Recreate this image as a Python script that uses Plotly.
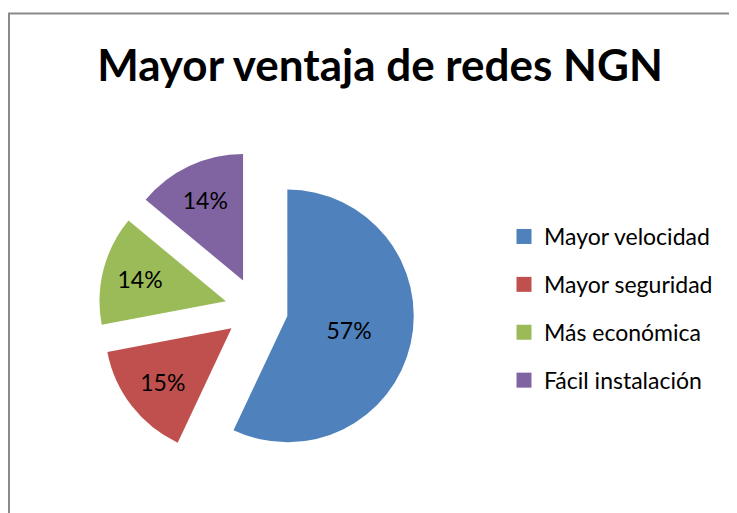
import plotly.graph_objects as go

labels = ["Mayor velocidad", "Mayor seguridad", "Más económica", "Fácil instalación"]
values = [57, 15, 14, 14]
colors = ["#4F81BD", "#C0504D", "#9BBB59", "#8064A2"]
pulls = [0.25, 0.25, 0.25, 0.25]

W, H = 737, 513
OFF = 8  # page body margin offset
FONT = "Lato"


def px(x):
    return (x - OFF) / W


def py(y):
    return 1 - (y - OFF) / H


fig = go.Figure()
fig.add_trace(go.Pie(
    labels=labels, values=values, sort=False, direction="clockwise", rotation=0,
    pull=pulls, marker=dict(colors=colors, line=dict(width=0)),
    textinfo="percent", textposition="inside", insidetextorientation="horizontal",
    textfont=dict(family=FONT, size=23, color="black"),
    showlegend=False, hoverinfo="label+percent",
    domain=dict(x=[px(98), px(415)], y=[py(467), py(151)]),
))

# legend entries (one group per category so the spacing can match)
for lab, col in zip(labels, colors):
    fig.add_trace(go.Scatter(
        x=[None], y=[None], mode="markers", name=lab, legendgroup=lab,
        marker=dict(symbol="square", size=15, color=col),
    ))

fig.update_layout(
    width=W, height=H,
    margin=dict(l=0, r=0, t=0, b=0),
    paper_bgcolor="white", plot_bgcolor="white",
    xaxis=dict(visible=False), yaxis=dict(visible=False),
    title=dict(text="<b>Mayor ventaja de redes NGN</b>", x=px(380), xanchor="center",
               y=py(66), yanchor="middle",
               font=dict(family=FONT, size=44, color="black")),
    legend=dict(x=px(504), y=py(215), xanchor="left", yanchor="top",
                font=dict(family=FONT, size=23, color="black"),
                tracegroupgap=15, bgcolor="rgba(0,0,0,0)", itemclick=False),
    shapes=[dict(type="rect", xref="paper", yref="paper",
                 x0=px(9), x1=1.02, y0=-0.02, y1=py(13.5),
                 line=dict(color="#898989", width=2), fillcolor="rgba(0,0,0,0)", layer="below")],
)

fig.write_html("out.html")
